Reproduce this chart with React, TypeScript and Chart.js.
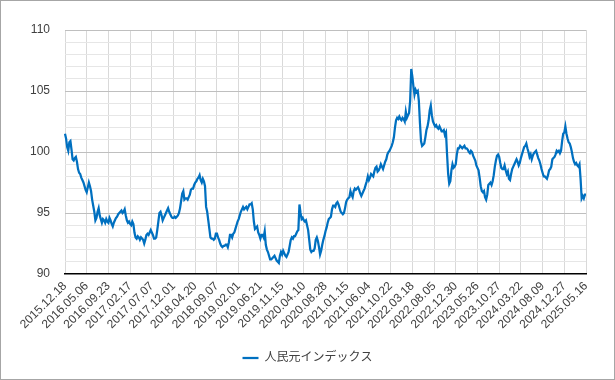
import React, { useEffect, useRef } from "react";
import { Chart, registerables } from "chart.js";

Chart.register(...registerables);

const SERIES_NAME = "人民元インデックス";
// a date label is shown on every 20th weekly observation
const TICK_EVERY = 20;
const TICK_LABELS = [
  "2015.12.18", "2016.05.06", "2016.09.23", "2017.02.17", "2017.07.07",
  "2017.12.01", "2018.04.20", "2018.09.07", "2019.02.01", "2019.06.21",
  "2019.11.15", "2020.04.10", "2020.08.28", "2021.01.15", "2021.06.04",
  "2021.10.22", "2022.03.18", "2022.08.05", "2022.12.30", "2023.05.26",
  "2023.10.27", "2024.03.22", "2024.08.09", "2024.12.27", "2025.05.16",
];
const Y_MIN = 90;
const Y_MAX = 110;

// weekly values, 2015.12.18 .. 2025.05.16
const VALUES = [
  101.5, 101.1, 100.4, 100.1, 100.8, 100.9, 100.2, 99.4, 99.3, 99.5, 99.6, 99.2, 98.6, 98.3, 98.2, 97.9, 97.7, 97.5, 97.2, 96.9,
  96.7, 97.1, 97.5, 97.2, 96.8, 96.1, 95.6, 95.1, 94.4, 94.6, 95.1, 95.4, 94.8, 94.5, 94.2, 94.5, 94.4, 94.2, 94.5, 94.3,
  94.2, 94.6, 94.4, 94.1, 93.9, 94.2, 94.4, 94.6, 94.7, 94.9, 95.0, 95.1, 95.2, 95.0, 95.1, 95.3, 94.8, 94.4, 94.2, 94.3,
  94.1, 94.0, 94.3, 94.1, 93.4, 93.0, 92.9, 93.1, 93.0, 92.8, 93.0, 92.9, 92.8, 92.5, 92.8, 93.2, 93.3, 93.2, 93.4, 93.6,
  93.4, 93.2, 92.9, 92.9, 93.0, 93.6, 94.3, 95.0, 95.1, 94.8, 94.4, 94.6, 94.8, 95.0, 95.2, 95.4, 95.1, 94.9, 94.7, 94.6,
  94.6, 94.7, 94.6, 94.7, 94.8, 95.0, 95.4, 96.0, 96.6, 96.8, 96.1, 96.2, 96.2, 96.1, 96.3, 96.5, 96.9, 97.0, 97.0, 97.3,
  97.5, 97.6, 97.8, 97.9, 98.1, 97.7, 97.5, 97.8, 97.6, 97.2, 95.5, 95.1, 94.4, 93.7, 93.0, 92.9, 92.9, 92.8, 92.9, 93.3,
  93.3, 93.0, 92.8, 92.5, 92.3, 92.2, 92.3, 92.3, 92.4, 92.4, 92.2, 92.6, 93.2, 93.2, 93.0, 93.3, 93.4, 93.7, 94.0, 94.3,
  94.5, 94.8, 95.1, 95.3, 95.5, 95.3, 95.4, 95.5, 95.3, 95.5, 95.7, 95.7, 95.8, 95.3, 94.3, 93.7, 93.8, 93.9, 93.4, 93.2,
  92.9, 93.2, 93.2, 93.0, 93.5, 92.4, 92.0, 91.8, 91.5, 91.2, 91.2, 91.3, 91.4, 91.5, 91.3, 91.1, 91.0, 90.9, 91.5, 91.8,
  91.6, 91.9, 91.7, 91.5, 91.4, 91.6, 91.8, 92.3, 92.8, 93.0, 92.9, 93.1, 93.1, 93.3, 93.5, 93.6, 95.7, 95.0, 94.5, 94.6,
  94.4, 94.3, 94.4, 94.0, 93.6, 92.8, 92.0, 91.8, 91.9, 91.9, 92.1, 92.8, 93.0, 92.7, 92.2, 91.6, 91.9, 92.4, 92.8, 93.1,
  93.5, 93.8, 94.2, 94.5, 94.6, 94.7, 95.3, 95.6, 95.6, 95.5, 95.8, 95.9, 95.7, 95.4, 95.1, 95.0, 94.9, 95.0, 95.4, 95.9,
  96.1, 96.2, 96.3, 96.8, 96.5, 96.3, 96.8, 97.0, 96.9, 97.0, 97.1, 96.9, 96.6, 96.4, 96.6, 96.8, 97.0, 97.3, 97.6, 98.0,
  97.7, 97.9, 98.2, 98.1, 98.0, 98.4, 98.7, 98.8, 98.4, 98.5, 98.7, 99.0, 98.8, 98.6, 98.9, 99.2, 99.4, 99.8, 100.0, 100.1,
  100.3, 100.5, 100.8, 101.2, 102.0, 102.6, 102.8, 102.7, 102.9, 102.7, 102.6, 102.8, 102.7, 102.5, 103.3, 102.8, 103.0, 103.2, 104.2, 106.8,
  106.2, 105.4, 104.7, 105.1, 104.9, 105.0, 104.2, 102.4, 100.9, 100.5, 100.6, 100.7, 101.2, 101.8, 102.1, 102.6, 103.4, 103.8, 103.0, 102.5,
  102.3, 102.1, 102.2, 102.0, 101.9, 102.1, 101.9, 101.7, 101.7, 101.8, 101.4, 101.6, 99.8, 98.2, 97.4, 97.6, 98.5, 99.0, 98.7, 98.8,
  99.0, 99.8, 100.3, 100.3, 100.5, 100.4, 100.3, 100.4, 100.5, 100.3, 100.3, 100.2, 100.0, 99.9, 100.1, 100.0, 99.7, 99.5, 99.3, 98.9,
  98.7, 98.5, 97.9, 97.2, 96.8, 96.7, 96.8, 96.3, 96.1, 96.5, 97.3, 97.4, 97.5, 97.3, 97.6, 98.1, 98.8, 99.3, 99.7, 99.8,
  99.6, 99.1, 98.7, 98.6, 98.6, 98.9, 98.5, 98.2, 98.4, 97.8, 97.7, 98.2, 98.6, 98.8, 99.0, 99.2, 99.4, 99.2, 98.9, 99.1,
  99.5, 99.8, 100.1, 100.4, 100.5, 100.7, 100.3, 100.0, 99.6, 99.8, 99.4, 99.7, 99.9, 100.0, 100.1, 99.8, 99.5, 99.3, 99.0, 98.6,
  98.3, 98.0, 98.0, 97.9, 97.8, 98.1, 98.5, 98.6, 98.8, 99.4, 99.5, 99.6, 99.8, 100.1, 100.0, 100.1, 99.9, 100.1, 100.9, 101.5,
  101.6, 102.1, 101.5, 101.1, 100.8, 100.7, 100.4, 100.0, 99.5, 99.2, 99.0, 99.1, 98.9, 98.8, 99.0, 97.8, 96.2, 96.4, 96.2, 96.5,
  96.5,
];

const FONT = '"Liberation Sans", Arial, "Noto Sans CJK JP", sans-serif';

export default function App() {
  const ref = useRef<HTMLCanvasElement | null>(null);

  useEffect(() => {
    if (!ref.current) return;
    const labels = VALUES.map((_, i) =>
      i % TICK_EVERY === 0 && TICK_LABELS[i / TICK_EVERY] ? TICK_LABELS[i / TICK_EVERY] : ""
    );
    const chart = new Chart(ref.current, {
      type: "line",
      data: {
        labels,
        datasets: [
          {
            label: SERIES_NAME,
            data: VALUES,
            borderColor: "#0070c0",
            backgroundColor: "#0070c0",
            borderWidth: 2.25,
            pointRadius: 0,
            pointHoverRadius: 0,
            tension: 0,
            fill: false,
            yAxisID: "y",
          },
        ],
      },
      options: {
        responsive: false,
        animation: false,
        events: [],
        layout: { padding: { top: 30, right: 0, left: 0, bottom: 6 } },
        plugins: {
          tooltip: { enabled: false },
          legend: {
            position: "bottom",
            labels: {
              usePointStyle: true,
              pointStyle: "line",
              pointStyleWidth: 16,
              boxHeight: 12,
              color: "#404040",
              font: { family: FONT, size: 12 },
              padding: 10,
            },
          },
        },
        scales: {
          x: {
            type: "category",
            offset: false,
            grid: {
              color: "#d9d9d9",
              lineWidth: 1,
              drawTicks: false,
            },
            border: { display: true, color: "#000000", width: 1.5 },
            ticks: {
              autoSkip: false,
              minRotation: 45,
              maxRotation: 45,
              padding: 5,
              color: "#404040",
              font: { family: FONT, size: 12 },
              callback: (_v: any, i: number) => (labels[i] ? labels[i] : null),
            },
            afterFit: (scale: any) => {
              scale.height = 68;
            },
          },
          y: {
            min: Y_MIN,
            max: Y_MAX,
            grid: {
              drawTicks: false,
              lineWidth: 1,
              color: (ctx: any) => {
                const v = ctx.tick ? ctx.tick.value : 0;
                if (v === Y_MIN) return "rgba(0,0,0,0)";
                return v % 5 === 0 ? "#bfbfbf" : "#e6e6e6";
              },
            },
            border: { display: false },
            ticks: {
              autoSkip: false,
              stepSize: 1,
              padding: 15,
              color: "#404040",
              font: { family: FONT, size: 12 },
              callback: (v: any) => (Number(v) % 5 === 0 ? String(v) : ""),
            },
            afterFit: (scale: any) => {
              scale.width = 65;
            },
          },
          // empty right-hand spacer so the legend stays centred on the canvas
          yRight: {
            position: "right",
            min: Y_MIN,
            max: Y_MAX,
            grid: { drawOnChartArea: false, drawTicks: false },
            border: { display: false },
            ticks: { display: false },
            afterFit: (scale: any) => {
              scale.width = 29;
            },
          },
        },
      },
    });
    return () => chart.destroy();
  }, []);

  return (
    <div style={{ position: "relative", width: 615, height: 380, background: "#fff" }}>
      <style>{`body{margin:0;}`}</style>
      <canvas ref={ref} width={615} height={380} style={{ display: "block" }} />
      <div
        style={{
          position: "absolute",
          inset: 0,
          border: "1px solid #a6a6a6",
          pointerEvents: "none",
        }}
      />
    </div>
  );
}
